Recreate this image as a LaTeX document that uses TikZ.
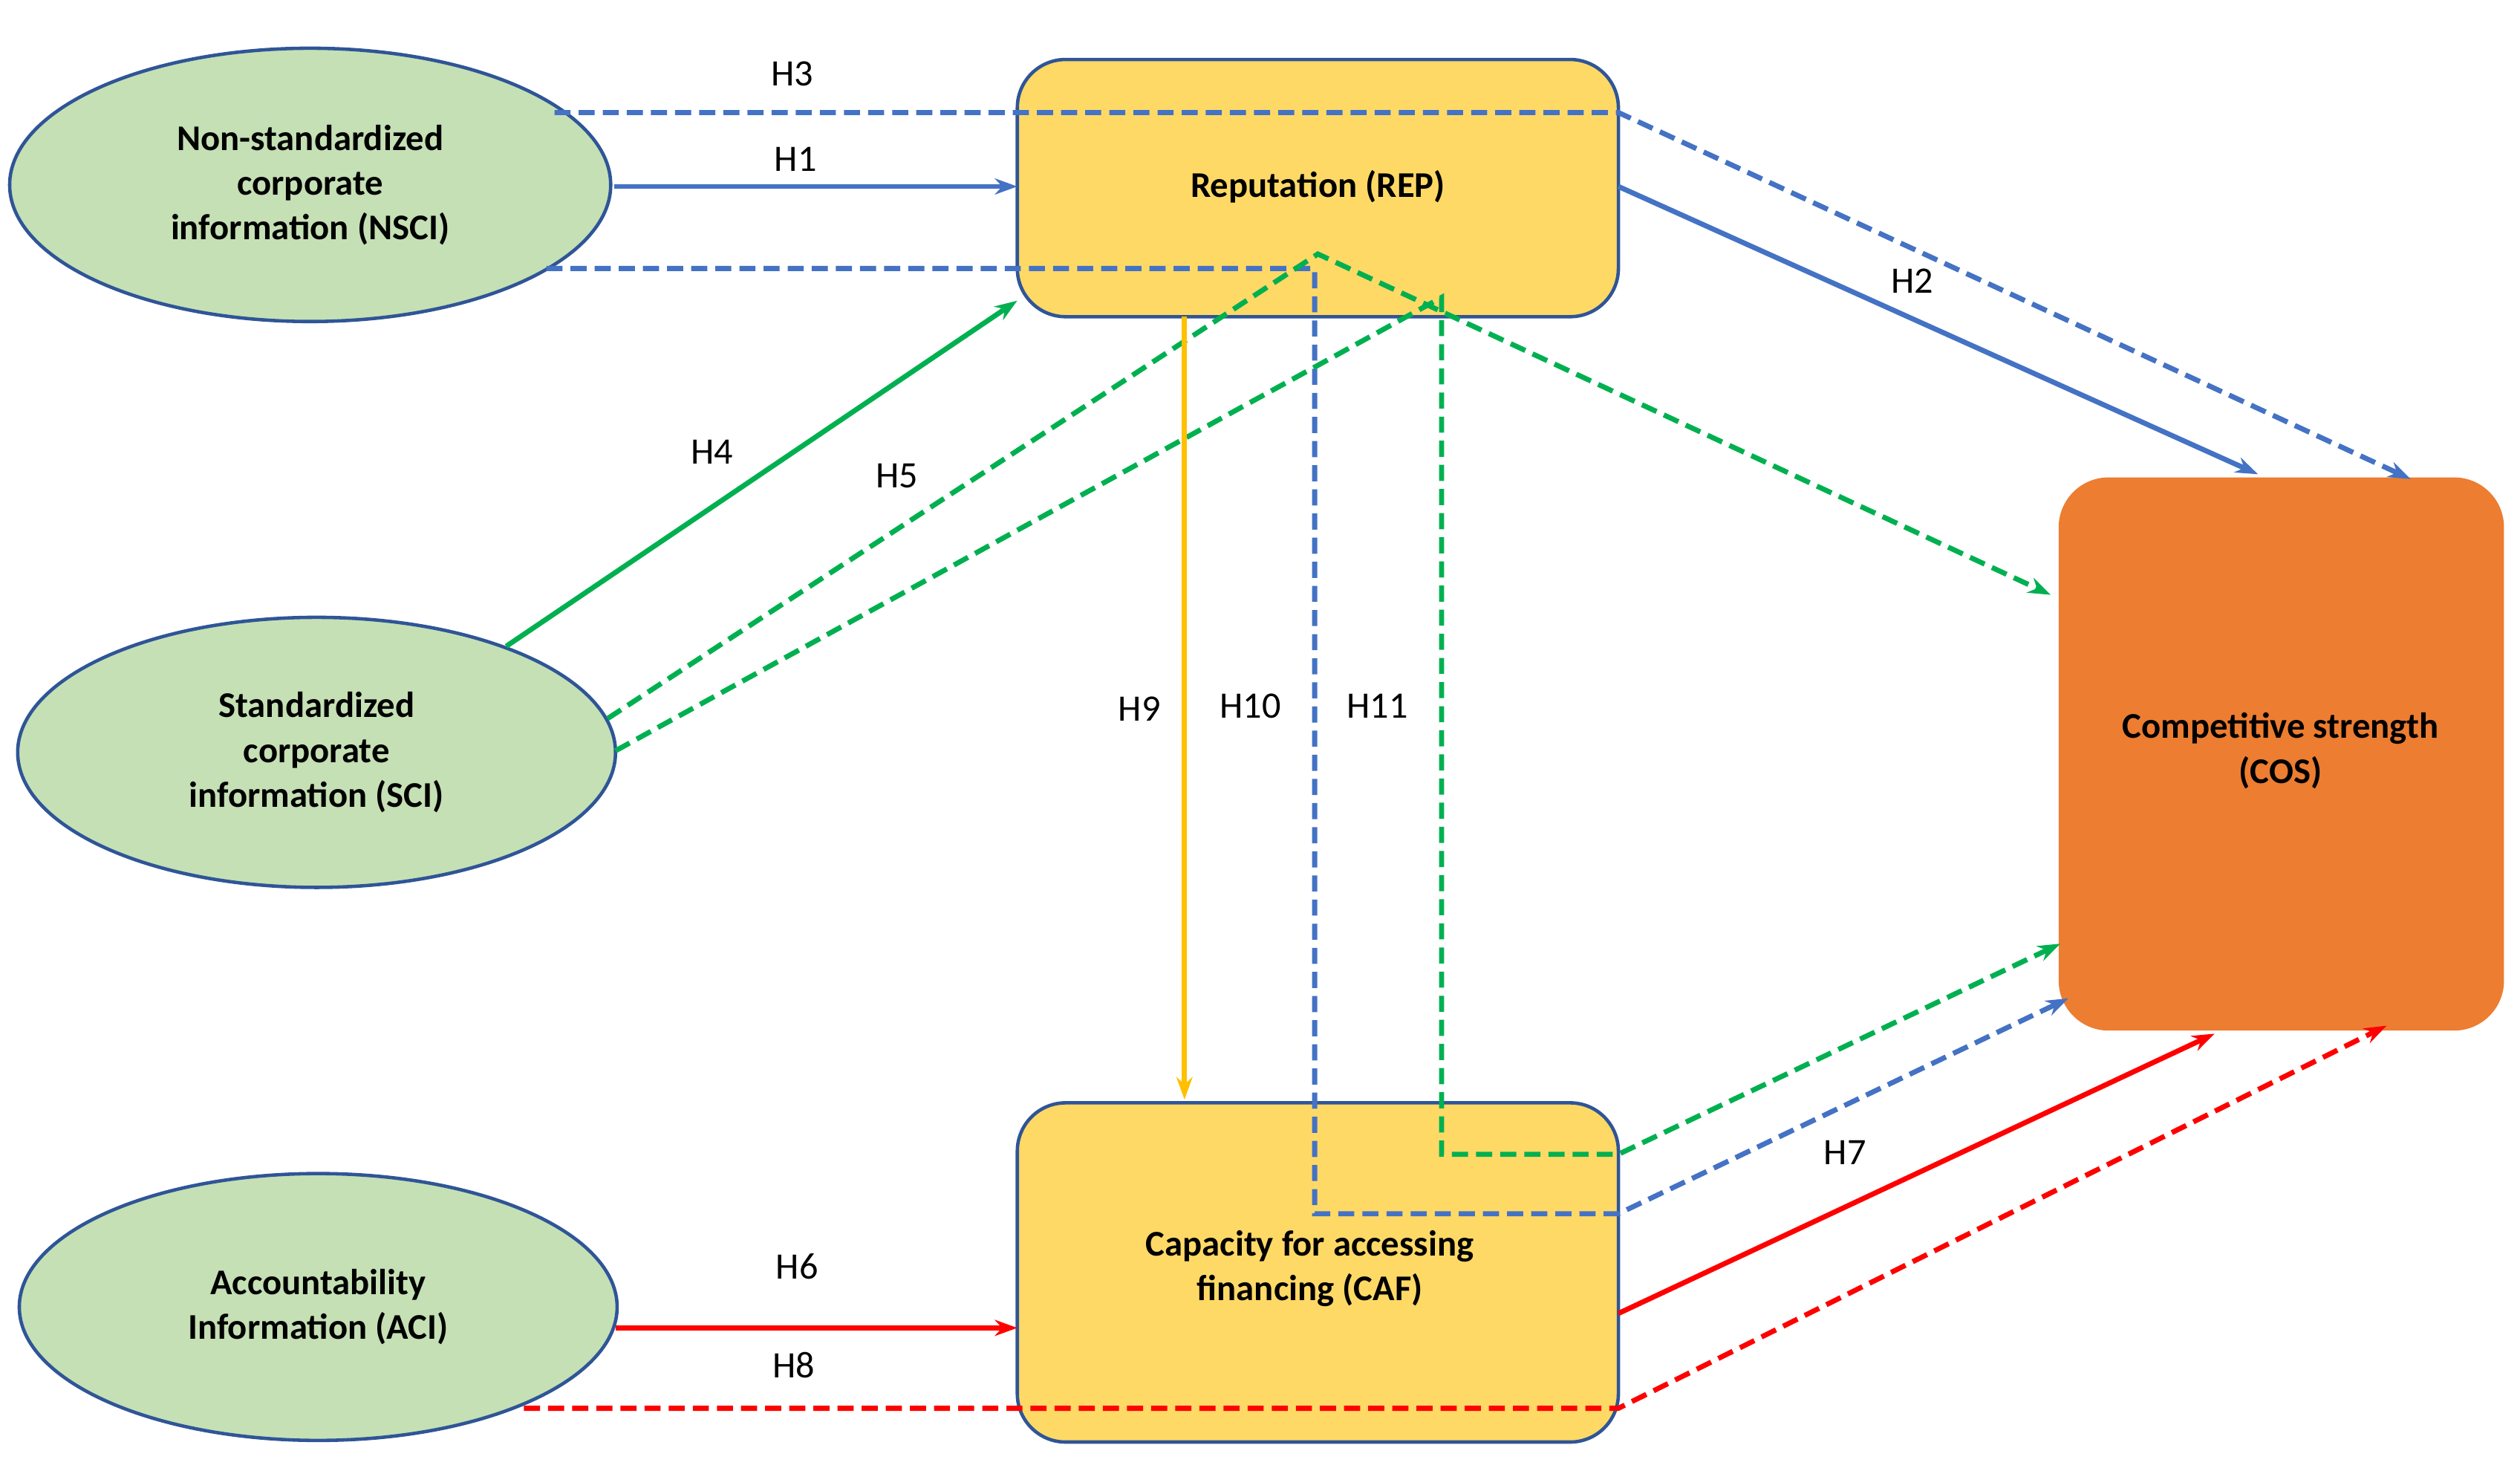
\documentclass[tikz,border=0pt]{standalone}
\usepackage{fontspec}
\setmainfont{Carlito}
\usetikzlibrary{arrows.meta}
\definecolor{cblue}{HTML}{4472C4}
\definecolor{cgreen}{HTML}{00B050}
\definecolor{cred}{HTML}{FF0000}
\definecolor{cyel}{HTML}{FFC000}
\definecolor{efill}{HTML}{C5E0B4}
\definecolor{bfill}{HTML}{FFD966}
\definecolor{ofill}{HTML}{ED7D31}
\definecolor{edge}{HTML}{2F5597}
\begin{document}
\begin{tikzpicture}[x=0.01cm,y=-0.01cm,
  ell/.style={draw=edge,fill=efill,line width=0.6pt},
  box/.style={draw=edge,line width=0.6pt,rounded corners=0.3cm},
  txt/.style={font=\fontsize{6.4}{7.9}\selectfont\bfseries,align=center},
  lab/.style={font=\fontsize{6.6}{8}\selectfont},
  arr/.style={line width=0.9pt,-{Stealth[length=0.14cm,width=0.1cm]}},
  dsh/.style={dash pattern=on 0.1cm off 0.05cm}]
\useasboundingbox (0,0) rectangle (1568,915);
% shapes
\draw[ell] (193,115) ellipse [x radius=187,y radius=85];
\node[txt] (nsci) at (193,115) {Non-standardized\\corporate\\information (NSCI)};
\draw[ell] (197,468) ellipse [x radius=186,y radius=84];
\node[txt] (sci) at (197,468) {Standardized\\corporate\\information (SCI)};
\draw[ell] (198,813) ellipse [x radius=186,y radius=83];
\node[txt] (aci) at (198,813) {Accountability\\Information (ACI)};
\draw[box,fill=bfill] (633,37) rectangle (1007,197);
\node[txt] (rep) at (820,116) {Reputation (REP)};
\draw[box,fill=bfill] (633,686) rectangle (1007,897);
\node[txt] (caf) at (815,789) {Capacity for accessing\\financing (CAF)};
\draw[box,fill=ofill,draw=ofill] (1282,298) rectangle (1557,640);
\node[txt] (cos) at (1419,467) {Competitive strength\\(COS)};
% coordinates
\coordinate (a1) at (382,116); \coordinate (b1) at (633,116);
\coordinate (a3) at (345,70); \coordinate (m3) at (1007,70); \coordinate (b3) at (1500,298);
\coordinate (a2) at (1007,116); \coordinate (b2) at (1405,295);
\coordinate (a10) at (340,167); \coordinate (m10a) at (818,167); \coordinate (m10b) at (818,755); \coordinate (m10c) at (1007,755); \coordinate (b10) at (1287,621);
\coordinate (a4) at (315,402); \coordinate (b4) at (633,187);
\coordinate (a5) at (378,447); \coordinate (m5) at (820,158); \coordinate (b5) at (1276,370);
\coordinate (a11) at (383,467); \coordinate (m11a) at (897,185); \coordinate (m11b) at (897,718); \coordinate (m11c) at (1007,718); \coordinate (b11) at (1282,587);
\coordinate (a9) at (737,197); \coordinate (b9) at (737,684);
\coordinate (a6) at (383,826); \coordinate (b6) at (633,826);
\coordinate (a8) at (326,876); \coordinate (m8) at (1007,876); \coordinate (b8) at (1485,638);
\coordinate (a7) at (1007,817); \coordinate (b7) at (1378,643);
% connectors
\draw[arr,cblue] (a1) -- (b1);
\draw[arr,cblue,dsh] (a3) -- (m3) -- (b3);
\draw[arr,cblue] (a2) -- (b2);
\draw[arr,cblue,dsh] (a10) -- (m10a) -- (m10b) -- (m10c) -- (b10);
\draw[arr,cgreen] (a4) -- (b4);
\draw[arr,cgreen,dsh] (a5) -- (m5) -- (b5);
\draw[arr,cgreen,dsh] (a11) -- (m11a) -- (m11b) -- (m11c) -- (b11);
\draw[arr,cyel] (a9) -- (b9);
\draw[arr,cred] (a6) -- (b6);
\draw[arr,cred,dsh] (a8) -- (m8) -- (b8);
\draw[arr,cred] (a7) -- (b7);
% labels
\node[lab] at (493,46) {H3};
\node[lab] at (495,99) {H1};
\node[lab] at (1190,175) {H2};
\node[lab] at (443,281) {H4};
\node[lab] at (558,296) {H5};
\node[lab] at (709,441) {H9};
\node[lab] at (778,439) {H10};
\node[lab] at (857,439) {H11};
\node[lab] at (496,788) {H6};
\node[lab] at (494,849) {H8};
\node[lab] at (1148,717) {H7};
\end{tikzpicture}
\end{document}
